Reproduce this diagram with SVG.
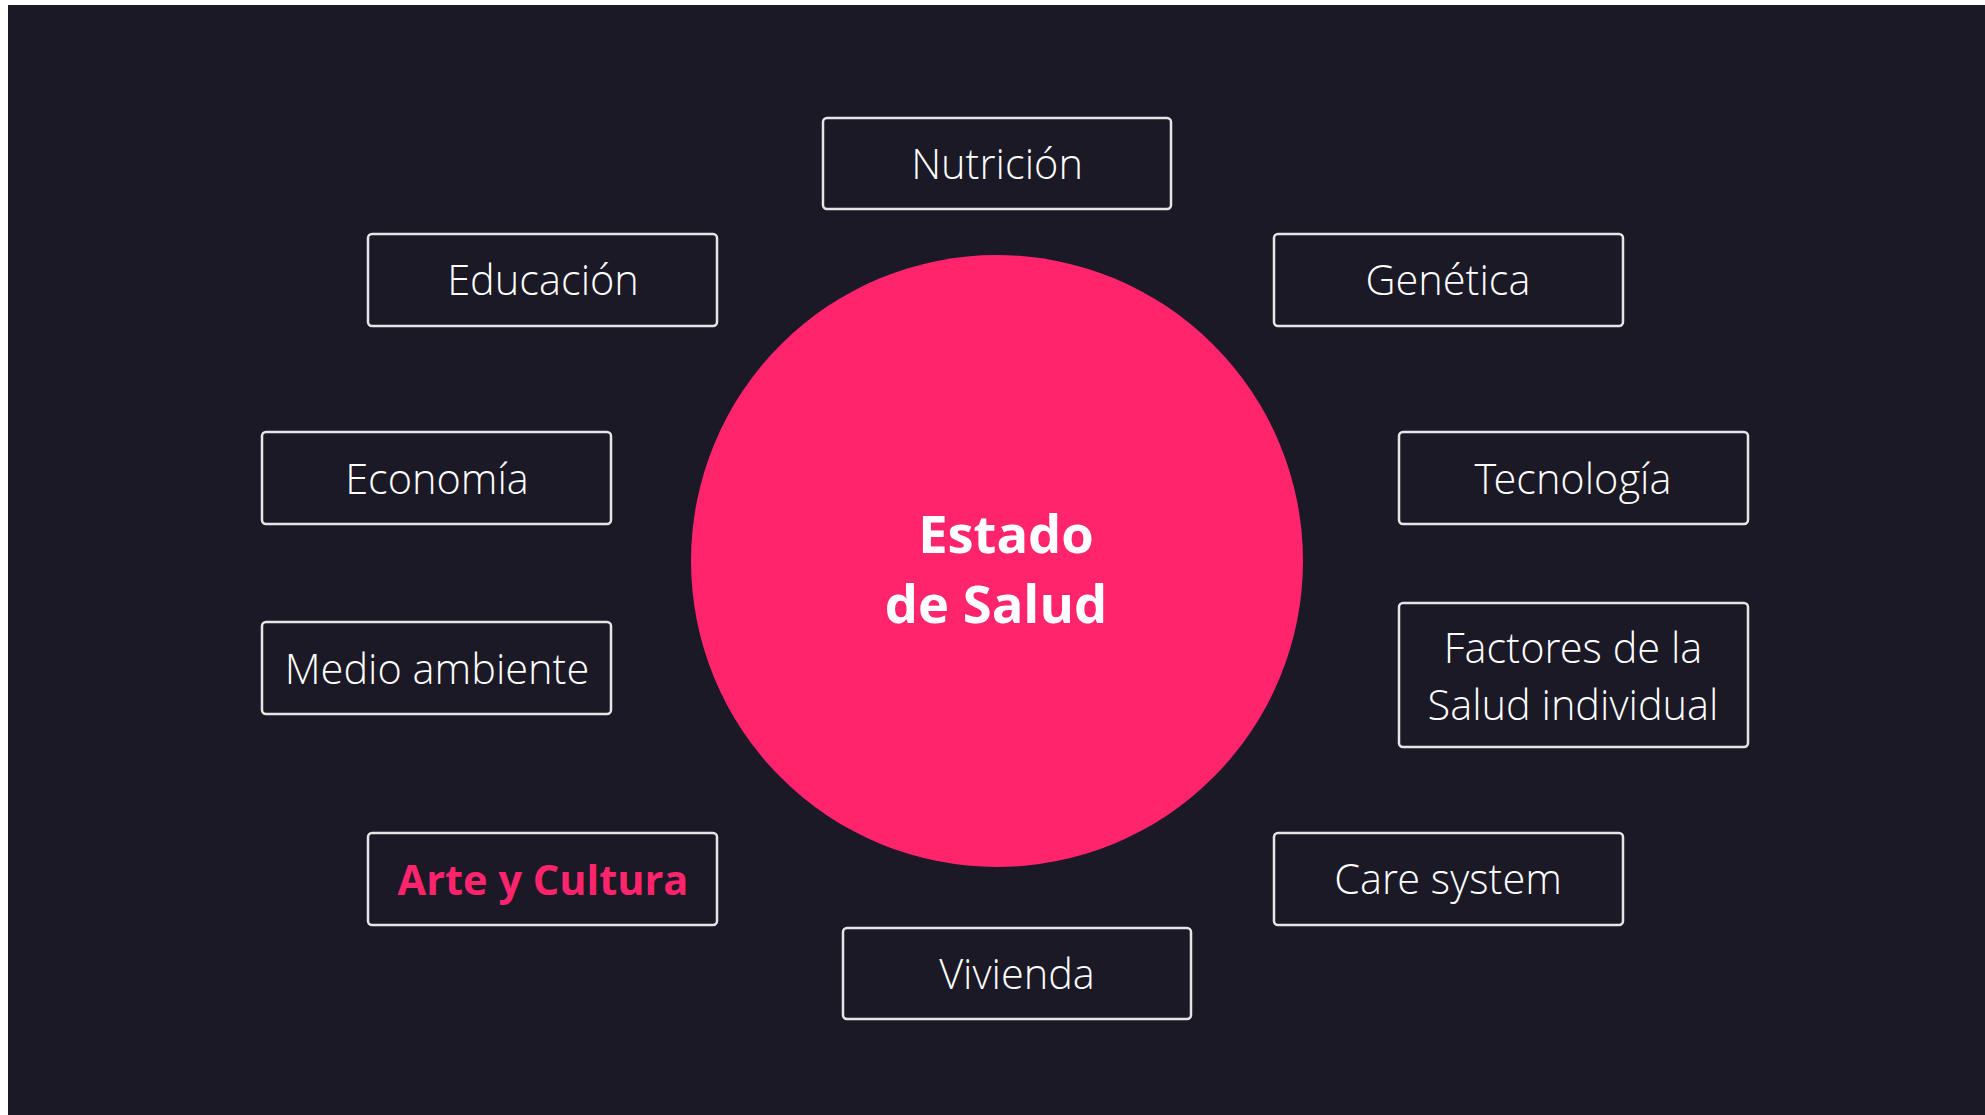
<svg xmlns="http://www.w3.org/2000/svg" width="1985" height="1115" viewBox="0 0 1985 1115">
  <style>
    .box { fill: #1b1926; stroke: #e6e6e6; stroke-width: 2.5; }
    .lbl { font-family: "Open Sans Light", "Open Sans", "Noto Sans", "Liberation Sans", sans-serif; font-weight: 300; font-size: 41.5px; fill: #ffffff; text-anchor: middle; }
    .hl { font-family: "Open Sans", "Noto Sans", "Liberation Sans", sans-serif; font-weight: 700; fill: #ff246c; }
    .core { font-family: "Open Sans", "Noto Sans", "Liberation Sans", sans-serif; font-weight: 700; font-size: 52.5px; fill: #ffffff; text-anchor: middle; }
  </style>
  <rect x="0" y="0" width="1985" height="1115" fill="#ffffff"/>
  <rect x="8" y="5" width="1977" height="1110" fill="#1b1926"/>
  <g id="connectors"></g>
  <g id="estado-de-salud">
    <circle cx="997" cy="561" r="306" fill="#ff246c"/>
    <text class="core" x="1006" y="553">Estado</text>
    <text class="core" x="996" y="623">de Salud</text>
  </g>
  <g id="nutricion">
    <rect class="box" x="823" y="118" width="348" height="91" rx="4"/>
    <text class="lbl" x="997" y="179">Nutrición</text>
  </g>
  <g id="educacion">
    <rect class="box" x="368" y="234" width="349" height="92" rx="4"/>
    <text class="lbl" x="543" y="295">Educación</text>
  </g>
  <g id="genetica">
    <rect class="box" x="1274" y="234" width="349" height="92" rx="4"/>
    <text class="lbl" x="1448" y="295">Genética</text>
  </g>
  <g id="economia">
    <rect class="box" x="262" y="432" width="349" height="92" rx="4"/>
    <text class="lbl" x="437" y="494">Economía</text>
  </g>
  <g id="tecnologia">
    <rect class="box" x="1399" y="432" width="349" height="92" rx="4"/>
    <text class="lbl" x="1573" y="494">Tecnología</text>
  </g>
  <g id="medio-ambiente">
    <rect class="box" x="262" y="622" width="349" height="92" rx="4"/>
    <text class="lbl" x="437" y="684">Medio ambiente</text>
  </g>
  <g id="factores">
    <rect class="box" x="1399" y="603" width="349" height="144" rx="4"/>
    <text class="lbl" x="1573" y="663">Factores de la</text>
    <text class="lbl" x="1573" y="720">Salud individual</text>
  </g>
  <g id="arte-y-cultura">
    <rect class="box" x="368" y="833" width="349" height="92" rx="4"/>
    <text class="lbl hl" x="543" y="895">Arte y Cultura</text>
  </g>
  <g id="care-system">
    <rect class="box" x="1274" y="833" width="349" height="92" rx="4"/>
    <text class="lbl" x="1448" y="894">Care system</text>
  </g>
  <g id="vivienda">
    <rect class="box" x="843" y="928" width="348" height="91" rx="4"/>
    <text class="lbl" x="1017" y="989">Vivienda</text>
  </g>
</svg>
